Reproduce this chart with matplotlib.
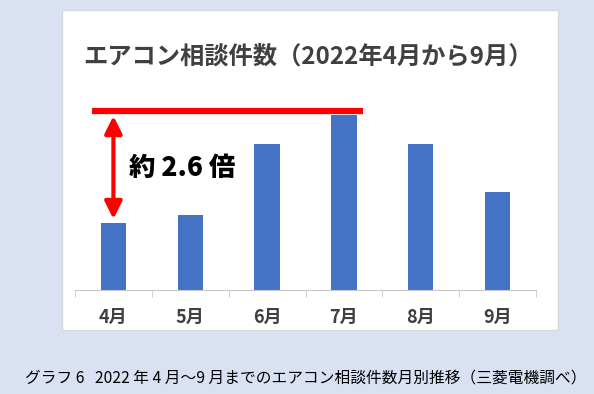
import numpy as np
import matplotlib.pyplot as plt
from matplotlib.patches import Rectangle

# monthly consultation counts (relative)
months = ['4月', '5月', '6月', '7月', '8月', '9月']
counts = [67, 75, 146, 175, 146, 98]

title = 'エアコン相談件数（2022年4月から9月）'
ratio_label = '約 2.6 倍'
caption = 'グラフ 6   2022 年 4 月～9 月までのエアコン相談件数月別推移（三菱電機調べ）'

plt.rcParams['font.family'] = ['Noto Sans CJK JP', 'DejaVu Sans']

W, H = 594, 394
fig = plt.figure(figsize=(W / 100, H / 100), dpi=100)
fig.patch.set_facecolor('#dae1f2')

# white chart panel (behind the axes)
fig.patches.append(Rectangle((62 / W, 1 - 330 / H), 496 / W, 320 / H,
                             transform=fig.transFigure, facecolor='white',
                             edgecolor='#d9d9d9', lw=1, zorder=-1))

ax = fig.add_axes([75 / W, 1 - 290 / H, 461 / W, 190 / H])
ax.set_facecolor('none')
x = np.arange(len(months))
ax.bar(x, counts, width=0.33, color='#4472c4', zorder=2)
ax.set_xlim(-0.5, len(months) - 0.5)
ax.set_ylim(0, 190)

for s in ['top', 'right', 'left']:
    ax.spines[s].set_visible(False)
ax.spines['bottom'].set_color('#c8c8c8')
ax.set_yticks([])
ax.set_xticks(x)
ax.set_xticklabels(months, fontsize=13, fontweight='bold', color='#404040')
ax.tick_params(axis='x', which='major', length=0, pad=13)
ax.set_xticks(np.arange(-0.5, len(months)), minor=True)
ax.tick_params(axis='x', which='minor', length=5, color='#c8c8c8')

# peak line and ratio arrow
peak = max(counts)
ax.hlines(peak + 4, -0.28, 3.25, color='#ff0000', lw=4.5, zorder=3)
ax.annotate('', xy=(0, counts[0] + 4), xytext=(0, peak - 1),
            arrowprops=dict(arrowstyle='<|-|>', color='#ff0000', lw=3,
                            mutation_scale=26, shrinkA=0, shrinkB=0))
ax.text(0.2, (peak + counts[0]) / 2 + 1, ratio_label, fontsize=19,
        fontweight='heavy', color='black', va='center', ha='left')

fig.text(83 / W, 1 - 57 / H, title, fontsize=17.5, fontweight='bold',
         color='#404040', va='center', ha='left')
fig.text(25 / W, 1 - 378 / H, caption, fontsize=11.3, color='black',
         va='center', ha='left')

fig.savefig('out.png', dpi=100, facecolor=fig.get_facecolor())
